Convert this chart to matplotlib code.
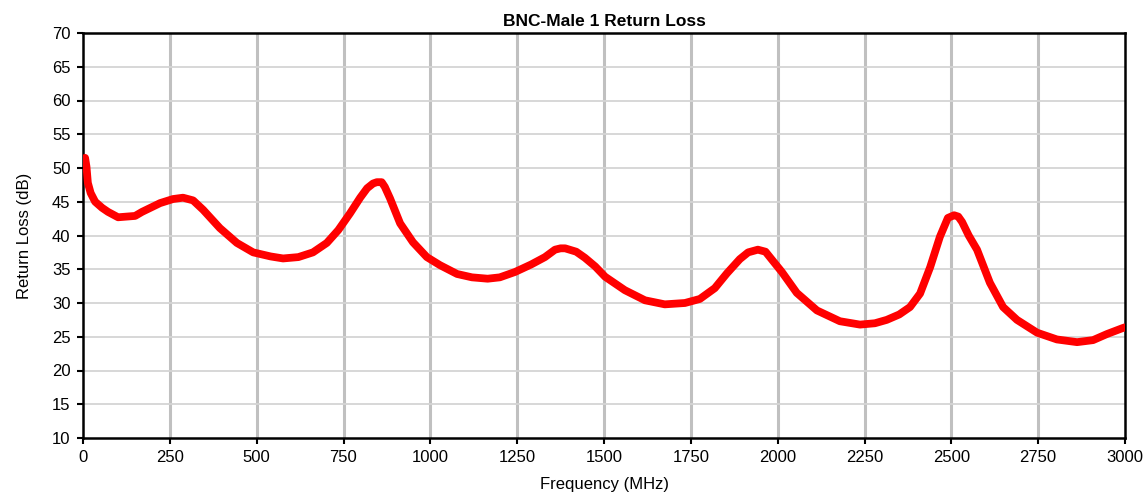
import matplotlib
matplotlib.use("Agg")
import matplotlib.pyplot as plt
import numpy as np

plt.rcParams["font.family"] = ["Liberation Sans", "DejaVu Sans"]

freq_mhz = [6, 10, 14, 22, 35, 55, 72, 101, 150, 170, 222, 259, 288, 317, 346,
            394, 443, 490, 540, 576, 620, 662, 702, 735, 769, 798, 818, 835,
            846, 860, 869, 884, 913, 950, 990, 1028, 1077, 1120, 1165, 1200,
            1244, 1290, 1330, 1359, 1375, 1388, 1420, 1445, 1475, 1503, 1560,
            1618, 1675, 1733, 1776, 1819, 1854, 1891, 1915, 1943, 1965, 1990,
            2012, 2055, 2113, 2179, 2237, 2280, 2314, 2350, 2381, 2410, 2439,
            2467, 2490, 2508, 2520, 2531, 2550, 2574, 2611, 2649, 2689, 2747,
            2804, 2862, 2908, 2948, 2994, 3000]
return_loss_db = [51.5, 50.2, 47.8, 46.3, 45.0, 44.1, 43.5, 42.7, 42.9, 43.5,
                  44.8, 45.4, 45.6, 45.2, 43.8, 41.1, 38.9, 37.5, 36.9, 36.6,
                  36.8, 37.5, 38.9, 40.8, 43.3, 45.6, 47.0, 47.7, 47.9, 47.9,
                  47.2, 45.5, 41.8, 39.0, 36.8, 35.6, 34.3, 33.8, 33.6, 33.8,
                  34.6, 35.7, 36.8, 37.9, 38.1, 38.1, 37.6, 36.7, 35.4, 33.9,
                  31.9, 30.4, 29.8, 30.0, 30.6, 32.2, 34.4, 36.5, 37.5, 37.9,
                  37.6, 36.0, 34.6, 31.5, 28.9, 27.3, 26.8, 27.0, 27.5, 28.3,
                  29.4, 31.4, 35.3, 39.8, 42.6, 43.0, 42.8, 42.0, 40.0, 37.9,
                  33.0, 29.4, 27.5, 25.6, 24.6, 24.2, 24.5, 25.4, 26.3, 26.4]

x_ticks = np.arange(0, 3001, 250)
y_ticks = np.arange(10, 71, 5)

fig = plt.figure(figsize=(11.48, 4.99), dpi=100)
ax = fig.add_axes([83 / 1148, 1 - 438 / 499, 1042 / 1148, 405 / 499])

for f in x_ticks[1:-1]:
    ax.axvline(f, color="#c0c0c0", lw=2.2, zorder=1)
for v in y_ticks[1:-1]:
    ax.axhline(v, color="#d4d4d4", lw=1.3, zorder=1)

ax.plot(freq_mhz, return_loss_db, color="#ff0000", lw=5.6,
        solid_capstyle="round", solid_joinstyle="round", zorder=3)

ax.set_xlim(0, 3000)
ax.set_ylim(10, 70)
ax.set_xticks(x_ticks)
ax.set_yticks(y_ticks)
ax.tick_params(direction="out", length=4, width=1.5, labelsize=12,
               pad=5, colors="black")
for s in ax.spines.values():
    s.set_linewidth(1.8)
    s.set_color("black")

ax.set_xlabel("Frequency (MHz)", fontsize=12, labelpad=8)
ax.set_ylabel("Return Loss (dB)", fontsize=12, labelpad=14)
ax.set_title("BNC-Male 1 Return Loss", fontsize=12.5, fontweight="bold", pad=5)

fig.savefig("out.png", dpi=100)
